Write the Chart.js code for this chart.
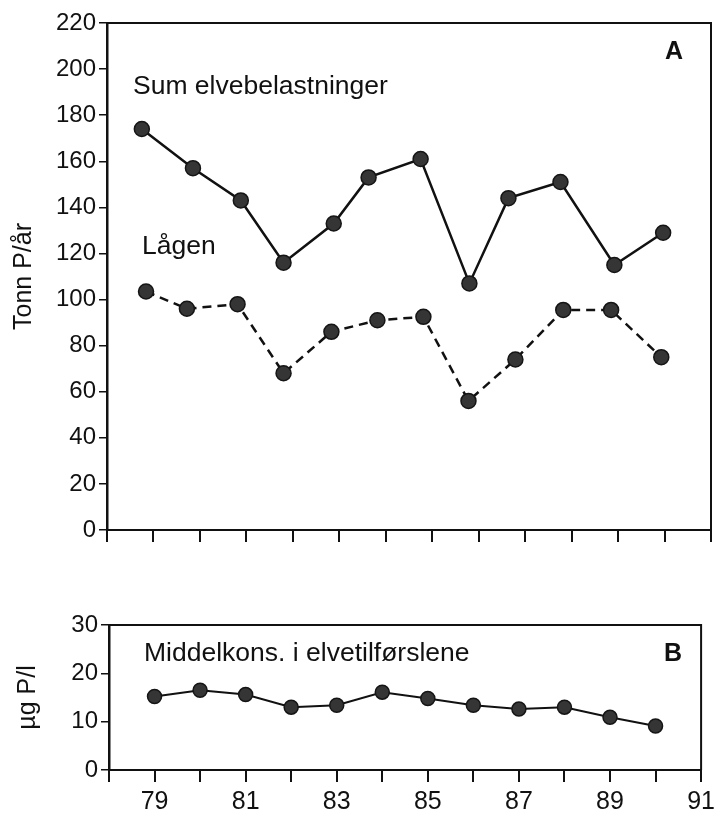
<!DOCTYPE html>
<html><head><meta charset="utf-8">
<script src="https://cdn.jsdelivr.net/npm/chart.js@4.4.0/dist/chart.umd.min.js"></script>
<style>
html,body{margin:0;padding:0;background:#fff;}
#wrapA{position:absolute;left:0;top:0;width:720px;height:560px;}
#wrapB{position:absolute;left:0;top:590px;width:720px;height:224px;}
</style></head><body>
<div id="wrapA"><canvas id="chartA"></canvas></div>
<div id="wrapB"><canvas id="chartB"></canvas></div>
<script>
// ---- Data ----
const sumYears   = [78.75, 79.85, 80.88, 81.80, 82.88, 83.63, 84.75, 85.80, 86.64, 87.76, 88.92, 89.97];
const sumValues  = [174, 157, 143, 116, 133, 153, 161, 107, 144, 151, 115, 129];
const lagenYears = [78.84, 79.72, 80.81, 81.80, 82.83, 83.82, 84.81, 85.78, 86.79, 87.82, 88.85, 89.93];
const lagenValues= [103.5, 96, 98, 68, 86, 91, 92.5, 56, 74, 95.5, 95.5, 75];
const concYears  = [79, 80, 81, 82, 83, 84, 85, 86, 87, 88, 89, 90];
const concValues = [15.2, 16.5, 15.6, 13.0, 13.4, 16.1, 14.8, 13.4, 12.6, 13.0, 10.9, 9.1];
const yTicksA = [0, 20, 40, 60, 80, 100, 120, 140, 160, 180, 200, 220];
const yTicksB = [0, 10, 20, 30];
const xTickLabels = [79, 81, 83, 85, 87, 89, 91];

const FONT = "'Liberation Sans', Arial, Helvetica, sans-serif";
const INK = '#111';

function pts(xs, ys){ return xs.map((x,i)=>({x:x, y:ys[i]})); }

const framePlugin = {
  id: 'frame',
  afterDraw(chart, args, opts){
    const {ctx, chartArea:a} = chart;
    ctx.save();
    ctx.strokeStyle = INK; ctx.lineWidth = 2;
    ctx.beginPath();
    ctx.moveTo(a.left, a.top); ctx.lineTo(a.right, a.top); ctx.lineTo(a.right, a.bottom);
    ctx.stroke();
    ctx.fillStyle = INK; ctx.textBaseline = 'alphabetic'; ctx.textAlign = 'left';
    (opts.texts || []).forEach(t => {
      ctx.font = t.font;
      ctx.fillText(t.text, a.left + t.dx, a.top + t.dy);
    });
    ctx.restore();
  }
};

function lineDs(data, dash, width, radius){
  return {
    data: data,
    borderColor: INK,
    borderWidth: width,
    borderDash: dash,
    backgroundColor: '#353535',
    pointBackgroundColor: '#353535',
    pointBorderColor: '#151515',
    pointBorderWidth: 1.5,
    pointRadius: radius,
    pointHoverRadius: radius,
    tension: 0,
    fill: false
  };
}

function xScale(height, showLabels){
  return {
    type: 'linear', min: 78, max: 91,
    afterBuildTicks: s => { s.ticks = []; for (let v = 78; v <= 91; v++) s.ticks.push({value: v}); },
    afterFit: s => { s.height = height; },
    border: {display: true, color: INK, width: 2},
    grid: {display: true, drawOnChartArea: false, drawTicks: true, tickLength: 12, color: INK, lineWidth: 2},
    ticks: {
      display: showLabels, padding: 5, color: INK, maxRotation: 0, autoSkip: false,
      font: {family: FONT, size: 25},
      callback: v => xTickLabels.includes(v) ? String(v) : ''
    }
  };
}

function yScale(min, max, tickVals, width, title, titlePad){
  return {
    type: 'linear', min: min, max: max,
    afterBuildTicks: s => { s.ticks = tickVals.map(v => ({value: v})); },
    afterFit: s => { s.width = width; },
    border: {display: true, color: INK, width: 2.5},
    grid: {display: true, drawOnChartArea: false, drawTicks: true, tickLength: 8, color: INK, lineWidth: 1.5},
    ticks: {padding: 3, color: INK, font: {family: FONT, size: 24}},
    title: {display: true, text: title, color: INK, font: {family: FONT, size: 25}, padding: {top: titlePad, bottom: 0}}
  };
}

const common = {
  responsive: true, maintainAspectRatio: false, animation: false,
  plugins: {legend: {display: false}, tooltip: {enabled: false}},
};

new Chart(document.getElementById('chartA'), {
  type: 'line',
  data: {datasets: [
    lineDs(pts(sumYears, sumValues), [], 2.5, 7.5),
    lineDs(pts(lagenYears, lagenValues), [9, 6], 2.5, 7.5)
  ]},
  options: Object.assign({}, common, {
    layout: {padding: {left: 0, right: 8, top: 23, bottom: 0}},
    scales: {
      x: xScale(30, false),
      y: yScale(0, 220, yTicksA, 107, 'Tonn P/år', 9)
    },
    plugins: Object.assign({}, common.plugins, {
      frame: {texts: [
        {text: 'Sum elvebelastninger', font: '26.5px ' + FONT, dx: 26, dy: 71},
        {text: 'Lågen', font: '26.5px ' + FONT, dx: 35, dy: 231},
        {text: 'A', font: 'bold 25px ' + FONT, dx: 558, dy: 36}
      ]}
    })
  }),
  plugins: [framePlugin]
});

new Chart(document.getElementById('chartB'), {
  type: 'line',
  data: {datasets: [
    lineDs(pts(concYears, concValues), [], 2, 7)
  ]},
  options: Object.assign({}, common, {
    layout: {padding: {left: 0, right: 13, top: 35, bottom: 0}},
    scales: {
      x: xScale(44, true),
      y: yScale(0, 30, yTicksB, 109, 'µg P/l', 13)
    },
    plugins: Object.assign({}, common.plugins, {
      frame: {texts: [
        {text: 'Middelkons. i elvetilførslene', font: '26.5px ' + FONT, dx: 35, dy: 36},
        {text: 'B', font: 'bold 25px ' + FONT, dx: 555, dy: 36}
      ]}
    })
  }),
  plugins: [framePlugin]
});
</script>
</body></html>
